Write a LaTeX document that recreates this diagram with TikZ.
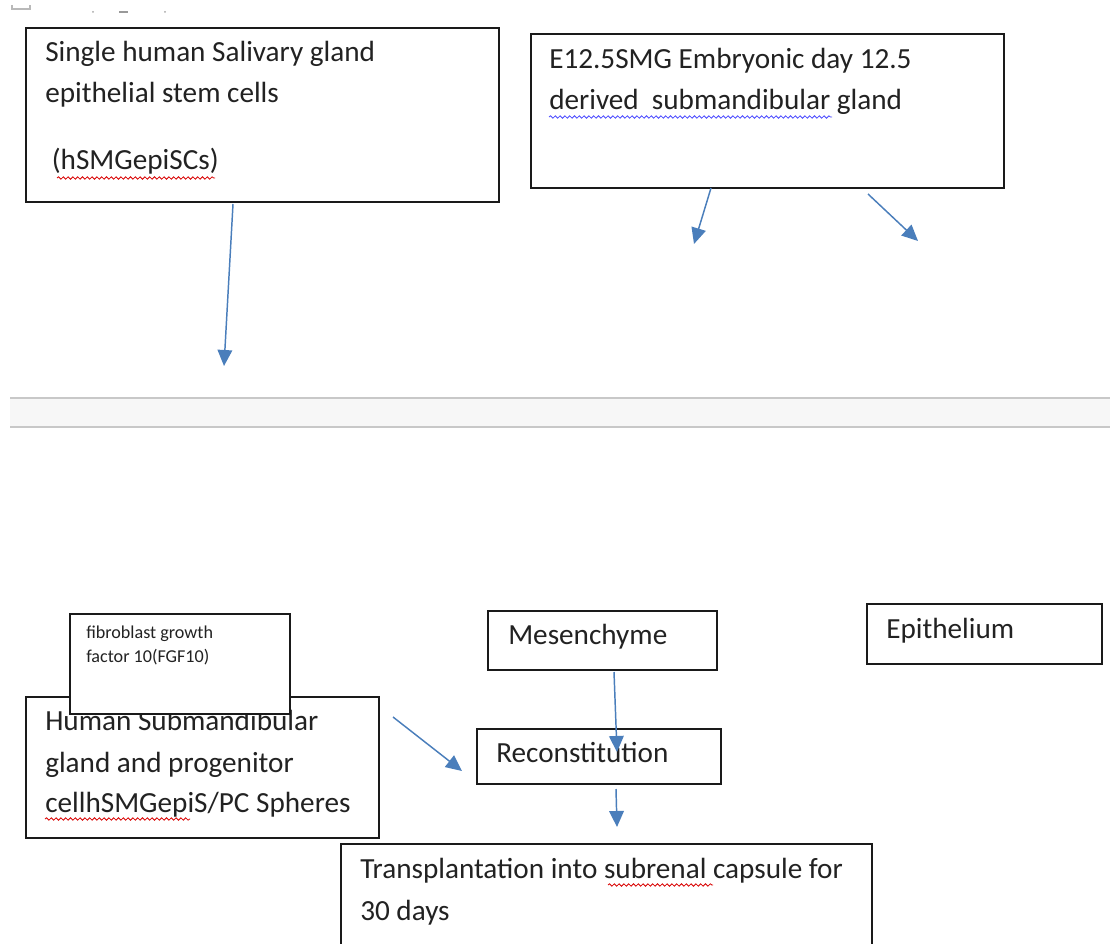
\documentclass[tikz,border=0pt]{standalone}
\usepackage{fontspec}
\setmainfont{Carlito}
\usetikzlibrary{arrows.meta,decorations.pathmorphing}
\definecolor{arrblue}{HTML}{4A7EBB}
\definecolor{boxline}{HTML}{1A1A1A}
\definecolor{txtcol}{HTML}{222222}
\definecolor{bandfill}{HTML}{F7F7F7}
\definecolor{bandline}{HTML}{C8C8C8}
\tikzset{
  box/.style={draw=boxline, line width=1.2pt, fill=white, rectangle, anchor=north west, inner sep=0pt},
  txt/.style={anchor=base west, inner sep=0pt, text=txtcol, font=\fontsize{21.9}{26}\selectfont},
  smalltxt/.style={anchor=base west, inner sep=0pt, text=txtcol, font=\fontsize{13.6}{16}\selectfont},
  arr/.style={draw=arrblue, line width=1.1pt, -{Triangle[length=12pt,width=11pt]}},
  squig/.style={line width=0.6pt, decorate, decoration={snake, amplitude=0.9pt, segment length=3.6pt}},
}
\begin{document}
\begin{tikzpicture}[x=0.75pt,y=-0.75pt]
\useasboundingbox (0,0) rectangle (1110,944);
\clip (0,0) rectangle (1110,944);
% top artifacts
\draw[gray!55, line width=1pt] (12,5) -- (12,9) -- (30,9) -- (30,5);
\fill[gray!70] (93,12) circle (1);
\fill[gray!80] (119,11) rectangle (128,13.5);
\fill[gray!70] (165,12) circle (1);
% page band
\fill[bandfill] (10,398) rectangle (1110,427);
\draw[bandline, line width=1.5pt] (10,398) -- (1110,398);
\draw[bandline, line width=1.5pt] (10,427) -- (1110,427);

% Box A
\node[box, minimum width=354.75pt, minimum height=130.5pt] (boxA) at (25,27) {};
\node[txt] (a1) at (45,62) {Single human Salivary gland};
\node[txt] (a2) at (45,103) {epithelial stem cells};
\node[txt] (a3) at (45,170) {\ (hSMGepiSCs)};
\draw[red!85!black, squig] (57,178) -- (215,178);

% Box B
\node[box, minimum width=354.75pt, minimum height=115.5pt] (boxB) at (530,33) {};
\node[txt] (b1) at (549,69) {E12.5SMG Embryonic day 12.5};
\node[txt] (b2) at (549,110) {derived\ \ submandibular gland};
\draw[blue!70, squig] (549,117) -- (832,117);

% arrows top
\coordinate (sA) at (233,204);
\coordinate (tA) at (224,366);
\draw[arr] (sA) -- (tA);
\coordinate (sB1) at (711,188);
\coordinate (tB1) at (694,244);
\draw[arr] (sB1) -- (tB1);
\coordinate (sB2) at (868,194);
\coordinate (tB2) at (918,241);
\draw[arr] (sB2) -- (tB2);

% Human box and FGF box
\node[box, minimum width=264.75pt, minimum height=105.75pt] (human) at (25,696) {};
\node[txt] (h1) at (45,730) {Human Submandibular};
\node[txt] (h2) at (45,772) {gland and progenitor};
\node[txt] (h3) at (45,812) {cellhSMGepiS/PC Spheres};
\draw[red!85!black, squig] (45,819) -- (190,819);
\node[box, minimum width=165pt, minimum height=75pt] (fgf) at (69,613) {};
\node[smalltxt] (f1) at (86,638) {fibroblast growth};
\node[smalltxt] (f2) at (86,662) {factor 10(FGF10)};

% Mesenchyme, Epithelium, Reconstitution
\node[box, minimum width=171.75pt, minimum height=44.25pt] (mes) at (487,610) {};
\node[txt] (m1) at (508,644) {Mesenchyme};
\node[box, minimum width=176.25pt, minimum height=45pt] (epi) at (866,603) {};
\node[txt] (e1) at (886,638) {Epithelium};
\node[box, minimum width=183pt, minimum height=41.25pt] (rec) at (476,728) {};
\node[txt] (r1) at (496,762) {Reconstitution};

% Transplantation
\node[box, minimum width=398.25pt, minimum height=90pt] (trans) at (340,843) {};
\node[txt] (t1) at (360,878) {Transplantation into subrenal capsule for};
\node[txt] (t2) at (360,920) {30 days};
\draw[red!85!black, squig] (608,885) -- (713,885);

% arrows bottom
\coordinate (sM) at (614,672);
\coordinate (tM) at (617,752);
\draw[arr] (sM) -- (tM);
\coordinate (sH) at (393,717);
\coordinate (tH) at (462,771);
\draw[arr] (sH) -- (tH);
\coordinate (sR) at (616,789);
\coordinate (tR) at (617,827);
\draw[arr] (sR) -- (tR);
\end{tikzpicture}
\end{document}
